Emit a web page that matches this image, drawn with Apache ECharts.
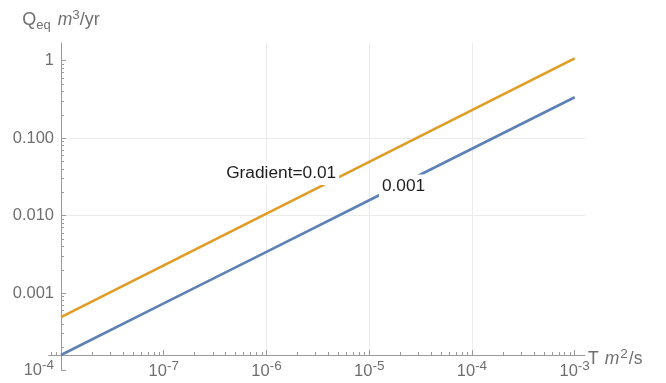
<!DOCTYPE html>
<html>
<head>
<meta charset="utf-8">
<script src="https://cdn.jsdelivr.net/npm/echarts@6/dist/echarts.min.js"></script>
<style>
  html, body { margin: 0; padding: 0; background: #fff; }
  #chart { width: 666px; height: 383px; }
</style>
</head>
<body>
<div id="chart"></div>
<script>
// Transmissivity T (m^2/s) at each decade
const T_VALUES = [1e-8, 1e-7, 1e-6, 1e-5, 1e-4, 1e-3];
// Equivalent discharge Q_eq (m^3/yr) for two hydraulic gradients
const Q_GRADIENT_0_01 = [4.89e-4, 2.28e-3, 0.0106, 0.0493, 0.230, 1.07];
const Q_GRADIENT_0_001 = [1.59e-4, 7.38e-4, 3.41e-3, 0.0158, 0.0730, 0.337];

const SERIES_NAMES = ['Gradient=0.01', '0.001'];

// Major ticks and their labels ("a^b" is drawn as a with superscript b)
const X_TICKS = [1e-7, 1e-6, 1e-5, 1e-4, 1e-3];
const X_TICK_LABELS = ['10^-7', '10^-6', '10^-5', '10^-4', '10^-3'];
const Y_TICKS = [1e-4, 1e-3, 1e-2, 1e-1, 1];
const Y_TICK_LABELS = ['10^-4', '0.001', '0.010', '0.100', '1'];

// Plot ranges: axes cross at (X_MIN, Y_MIN); the axis lines run on to X_LO / Y_LO
const X_MIN = 1e-8, X_MAX = 1.26e-3, X_LO = 7.6e-9;
const Y_MIN = 1.59e-4, Y_MAX = 1.69, Y_LO = 1e-4;

// Where the in-plot series labels sit (data coordinates)
const LABEL_AT = [[1.39e-6, 0.0350], [2.16e-5, 0.0242]];

// Log minor ticks (2..9 x 10^k) inside a range
function minorTicks(lo, hi) {
  const out = [];
  for (let k = Math.floor(Math.log10(lo)); k <= Math.ceil(Math.log10(hi)); k++) {
    for (let m = 2; m <= 9; m++) {
      const v = m * Math.pow(10, k);
      if (v >= lo && v <= hi) out.push(v);
    }
  }
  return out;
}

const FONT = '"Liberation Sans", Arial, Helvetica, sans-serif';
const TICK_COLOR = '#6f6f6f';
const AXIS_COLOR = '#9a9a9a';
const GRID_COLOR = '#ebebeb';
const BLUE = '#5E81B5';
const ORANGE = '#E19C24';

const tickRich = {
  b: { fontSize: 16.5, lineHeight: 24, color: TICK_COLOR, fontFamily: FONT },
  s: { fontSize: 13.5, lineHeight: 7, verticalAlign: 'top', color: TICK_COLOR, fontFamily: FONT }
};

function richTick(label) {
  const p = label.split('^');
  return p.length > 1 ? '{b|' + p[0] + '}{s|' + p[1] + '}' : '{b|' + label + '}';
}
function tickFormatter(ticks, labels) {
  return function (v) {
    for (let i = 0; i < ticks.length; i++) {
      if (Math.abs(Math.log10(v) - Math.log10(ticks[i])) < 1e-6) return richTick(labels[i]);
    }
    return '';
  };
}

const H = 383;
const GRID0 = { left: 61, right: 81, top: 43, bottom: 28 };

function buildOption(outerLeft, outerBottom) {
  // outer frame edges vs. the main grid edges
  const xOff = -(outerBottom > GRID0.bottom ? 0 : GRID0.bottom - outerBottom); // lift x axis onto Y_MIN
  const yOff = -(GRID0.left - outerLeft);                                          // shift y axis onto X_MIN
  const outer = { left: outerLeft, right: GRID0.right, top: GRID0.top, bottom: outerBottom, outerBoundsMode: 'none' };
  const hidden = { axisLine: { show: false }, axisLabel: { show: false }, splitLine: { show: false } };
  return {
    animation: false,
    backgroundColor: '#fff',
    grid: [
      Object.assign({ outerBoundsMode: 'none' }, GRID0),
      outer,
      Object.assign({}, outer)
    ],
    xAxis: [
      { // gridlines + series
        type: 'log', gridIndex: 0, min: X_MIN, max: X_MAX,
        axisLine: { show: false, onZero: false },
        axisTick: { show: false, customValues: X_TICKS },
        axisLabel: { show: false },
        splitLine: { show: true, showMinLine: false, showMaxLine: false, lineStyle: { color: GRID_COLOR, width: 1 } }
      },
      { // axis line, major ticks, labels
        type: 'log', gridIndex: 1, min: X_LO, max: X_MAX, offset: xOff,
        axisLine: { show: true, onZero: false, lineStyle: { color: AXIS_COLOR, width: 1 } },
        axisTick: { show: true, inside: true, length: 5, customValues: X_TICKS, lineStyle: { color: AXIS_COLOR } },
        axisLabel: { show: true, margin: 4, customValues: X_TICKS, formatter: tickFormatter(X_TICKS, X_TICK_LABELS), rich: tickRich },
        splitLine: { show: false },
        name: '{b|T}{it|m}{sup|2}{b|/s}',
        nameLocation: 'end', nameGap: 3, nameMoveOverlap: false,
        nameTextStyle: {
          align: 'left', verticalAlign: 'middle', padding: [9, 0, 0, 0],
          rich: {
            b: { fontSize: 17.5, lineHeight: 24, color: TICK_COLOR, fontFamily: FONT },
            it: { fontSize: 17.5, lineHeight: 24, fontStyle: 'italic', color: TICK_COLOR, fontFamily: FONT, padding: [0, 0, 0, 6] },
            sup: { fontSize: 13.5, lineHeight: 7, verticalAlign: 'top', color: TICK_COLOR, fontFamily: FONT, padding: [0, 1, 0, 1] }
          }
        }
      },
      Object.assign({ // minor ticks
        type: 'log', gridIndex: 2, min: X_LO, max: X_MAX, offset: xOff,
        axisTick: { show: true, inside: true, length: 3, customValues: minorTicks(X_LO, X_MAX), lineStyle: { color: AXIS_COLOR } }
      }, hidden)
    ],
    yAxis: [
      {
        type: 'log', gridIndex: 0, min: Y_MIN, max: Y_MAX,
        axisLine: { show: false, onZero: false },
        axisTick: { show: false, customValues: Y_TICKS },
        axisLabel: { show: false },
        splitLine: { show: true, showMinLine: false, showMaxLine: false, lineStyle: { color: GRID_COLOR, width: 1 } }
      },
      {
        type: 'log', gridIndex: 1, min: Y_LO, max: Y_MAX, offset: yOff,
        axisLine: { show: true, onZero: false, lineStyle: { color: AXIS_COLOR, width: 1 } },
        axisTick: { show: true, inside: true, length: 5, customValues: Y_TICKS, lineStyle: { color: AXIS_COLOR } },
        axisLabel: { show: true, margin: 7, customValues: Y_TICKS, formatter: tickFormatter(Y_TICKS, Y_TICK_LABELS), rich: tickRich },
        splitLine: { show: false },
        name: '{q|Q}{sub|eq}{it|m}{sup|3}{b|/yr}',
        nameLocation: 'end', nameGap: 11, nameMoveOverlap: false,
        nameTextStyle: {
          align: 'center',
          rich: {
            q: { fontSize: 18, lineHeight: 24, color: TICK_COLOR, fontFamily: FONT },
            b: { fontSize: 18, lineHeight: 24, color: TICK_COLOR, fontFamily: FONT },
            sub: { fontSize: 13, lineHeight: 17, verticalAlign: 'bottom', color: TICK_COLOR, fontFamily: FONT },
            it: { fontSize: 17.5, lineHeight: 24, fontStyle: 'italic', color: TICK_COLOR, fontFamily: FONT, padding: [0, 0, 0, 7] },
            sup: { fontSize: 13.5, lineHeight: 10, verticalAlign: 'top', color: TICK_COLOR, fontFamily: FONT }
          }
        }
      },
      Object.assign({
        type: 'log', gridIndex: 2, min: Y_LO, max: Y_MAX, offset: yOff,
        axisTick: { show: true, inside: true, length: 3, customValues: minorTicks(Y_LO, Y_MAX), lineStyle: { color: AXIS_COLOR } }
      }, hidden)
    ],
    series: [
      lineSeries(SERIES_NAMES[0], Q_GRADIENT_0_01, ORANGE, LABEL_AT[0]),
      lineSeries(SERIES_NAMES[1], Q_GRADIENT_0_001, BLUE, LABEL_AT[1])
    ]
  };
}

function lineSeries(name, values, color, labelAt) {
  return {
    name: name, type: 'line', xAxisIndex: 0, yAxisIndex: 0,
    data: T_VALUES.map((t, i) => [t, values[i]]),
    showSymbol: false, symbol: 'none', clip: false,
    lineStyle: { color: color, width: 2.6 },
    itemStyle: { color: color },
    markPoint: {
      z: 5,
      symbol: 'rect', symbolSize: 1,
      itemStyle: { color: 'rgba(0,0,0,0)' },
      label: {
        show: true, position: 'inside', formatter: name,
        color: '#1e1e1e', fontSize: 17.3, fontFamily: FONT,
        backgroundColor: '#fff', padding: [3, 3, 3, 3]
      },
      data: [{ coord: labelAt }]
    }
  };
}

const chart = echarts.init(document.getElementById('chart'), null, { renderer: 'canvas' });
chart.setOption(buildOption(GRID0.left, GRID0.bottom));
// place the outer axis frame from the main grid's own scale
const corner = chart.convertToPixel({ gridIndex: 0 }, [X_LO, Y_LO]);
chart.setOption(buildOption(corner[0], H - corner[1]));
</script>
</body>
</html>
